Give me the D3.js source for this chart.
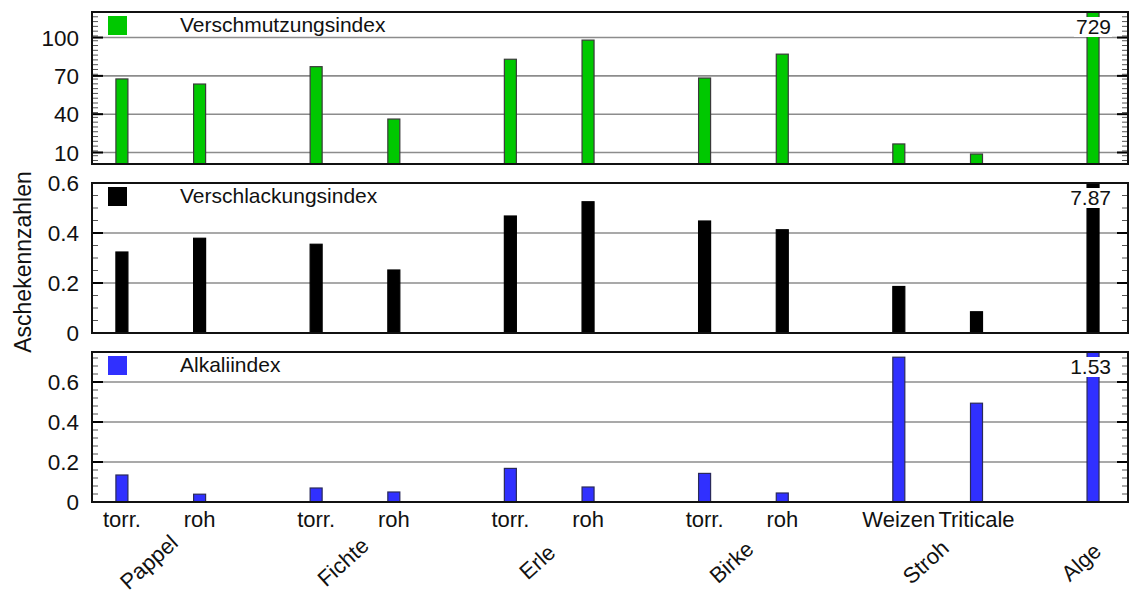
<!DOCTYPE html>
<html><head><meta charset="utf-8">
<script src="https://cdn.jsdelivr.net/npm/d3@7/dist/d3.min.js"></script>
<style>
html,body{margin:0;padding:0;background:#fff;}
svg{display:block;font-family:"Liberation Sans",Arial,Helvetica,sans-serif;}
</style></head>
<body>
<svg id="chart" width="1130" height="596"></svg>
<script>
// ---- data ----
const groups = ["Pappel", "Fichte", "Erle", "Birke", "Stroh", "Alge"];
const subLabels = [["torr.", "roh"], ["torr.", "roh"], ["torr.", "roh"], ["torr.", "roh"], ["Weizen", "Triticale"], [""]];
const verschmutzung = [67.6, 63.6, 77.2, 36.2, 83, 98, 68.3, 87, 16.7, 8.8, 729];
const verschlackung = [0.324, 0.379, 0.355, 0.252, 0.468, 0.525, 0.448, 0.413, 0.186, 0.085, 7.87];
const alkali = [0.135, 0.039, 0.07, 0.05, 0.168, 0.075, 0.143, 0.045, 0.724, 0.494, 1.53];
const ticksTop = [10, 40, 70, 100];
const ticksMid = [0, 0.2, 0.4, 0.6];
const ticksBot = [0, 0.2, 0.4, 0.6];
const yTitle = "Aschekennzahlen";

// ---- layout helpers ----
const svg = d3.select("#chart");
const left = 92, right = 1128;
// positions: spacing 2 within a group, 3 between groups
const items = [];
let pos = 1;
subLabels.forEach((subs, gi) => {
  if (gi > 0) pos += 1;
  subs.forEach((s, si) => {
    items.push({group: gi, label: s, pos: pos});
    pos += 2;
  });
});
const x = d3.scaleLinear().domain([0.23, 26.9]).range([left, right]);
const barW = 12;

const panels = [
  {name: "Verschmutzungsindex", values: verschmutzung, ticks: ticksTop, domain: [1, 120], top: 12, bottom: 164,
   minor: 3.75, color: "#00c800", stroke: "#3a3a3a", over: "729"},
  {name: "Verschlackungsindex", values: verschlackung, ticks: ticksMid, domain: [0, 0.6], top: 183, bottom: 333,
   minor: 0.05, color: "#000000", stroke: "#000000", over: "7.87"},
  {name: "Alkaliindex", values: alkali, ticks: ticksBot, domain: [0, 0.75], top: 352, bottom: 502,
   minor: 0.04, color: "#3030ff", stroke: "#2a2a5a", over: "1.53"}
];

panels.forEach((p, pi) => {
  const y = d3.scaleLinear().domain(p.domain).range([p.bottom, p.top]);
  const g = svg.append("g");
  const clipId = "clip" + pi;
  svg.append("clipPath").attr("id", clipId).append("rect")
    .attr("x", left).attr("y", p.top).attr("width", right - left).attr("height", p.bottom - p.top);

  // gridlines
  g.selectAll(".grid").data(p.ticks.filter(t => t > p.domain[0])).enter().append("line")
    .attr("x1", left).attr("x2", right)
    .attr("y1", d => y(d)).attr("y2", d => y(d))
    .attr("stroke", "#8c8c8c").attr("stroke-width", 1.6);

  // bars
  g.append("g").attr("clip-path", `url(#${clipId})`)
    .selectAll("rect").data(items).enter().append("rect")
    .attr("x", d => x(d.pos) - barW / 2)
    .attr("width", barW)
    .attr("y", (d, i) => y(Math.min(p.values[i], p.domain[1] * 1.05)))
    .attr("height", (d, i) => y(p.domain[0]) - y(Math.min(p.values[i], p.domain[1] * 1.05)))
    .attr("fill", p.color).attr("stroke", p.stroke).attr("stroke-width", 1.2);

  // legend square + text
  g.append("rect").attr("x", 108).attr("y", p.top + 4).attr("width", 19).attr("height", 19)
    .attr("fill", p.color);
  g.append("text").attr("x", 180).attr("y", p.top + 20).attr("font-size", 21).attr("fill", "#111")
    .text(p.name);

  // overflow value label with white backing
  const lbl = g.append("text").attr("x", 1111).attr("y", p.top + 22).attr("text-anchor", "end")
    .attr("font-size", 21).attr("fill", "#111").text(p.over);
  const bb = lbl.node().getBBox();
  g.append("rect")
    .attr("x", bb.x - 2).attr("y", p.top + 5).attr("width", bb.width + 3).attr("height", 20)
    .attr("fill", "#fff");
  lbl.raise();

  // minor ticks
  const minors = d3.range(p.domain[0] - (p.domain[0] % p.minor), p.domain[1] + 1e-9, p.minor)
    .filter(v => v >= p.domain[0] && !p.ticks.some(t => Math.abs(t - v) < 1e-6));
  [left, right].forEach((xe, side) => {
    const dir = side === 0 ? 1 : -1;
    g.selectAll(null).data(minors).enter().append("line")
      .attr("x1", xe).attr("x2", xe + dir * 6)
      .attr("y1", d => y(d)).attr("y2", d => y(d))
      .attr("stroke", "#555").attr("stroke-width", 1);
    g.selectAll(null).data(p.ticks).enter().append("line")
      .attr("x1", xe).attr("x2", xe + dir * 11)
      .attr("y1", d => y(d)).attr("y2", d => y(d))
      .attr("stroke", "#000").attr("stroke-width", 2);
  });

  // tick labels
  g.selectAll(null).data(p.ticks).enter().append("text")
    .attr("x", 79).attr("y", d => y(d)).attr("dy", "0.36em")
    .attr("text-anchor", "end").attr("font-size", 22.5).attr("fill", "#111")
    .text(d => String(d));

  // frame
  g.append("rect").attr("x", left).attr("y", p.top).attr("width", right - left).attr("height", p.bottom - p.top)
    .attr("fill", "none").attr("stroke", "#111").attr("stroke-width", 2);
});

// sub labels
svg.selectAll(".sub").data(items.filter(d => d.label !== "")).enter().append("text")
  .attr("x", d => x(d.pos)).attr("y", 527)
  .attr("text-anchor", "middle").attr("font-size", 22).attr("fill", "#111")
  .text(d => d.label);

// group labels (rotated)
svg.selectAll(".grp").data(groups).enter().append("text")
  .attr("transform", (d, gi) => {
    const its = items.filter(it => it.group === gi);
    const cx = d3.mean(its, it => x(it.pos));
    return `translate(${cx - 12},${562}) rotate(-42)`;
  })
  .attr("text-anchor", "middle").attr("dy", "0.35em")
  .attr("font-size", 22).attr("fill", "#111")
  .text(d => d);

// y axis title
svg.append("text").attr("transform", "translate(31,262) rotate(-90)")
  .attr("text-anchor", "middle").attr("font-size", 23).attr("fill", "#111")
  .text(yTitle);
</script>
</body></html>
